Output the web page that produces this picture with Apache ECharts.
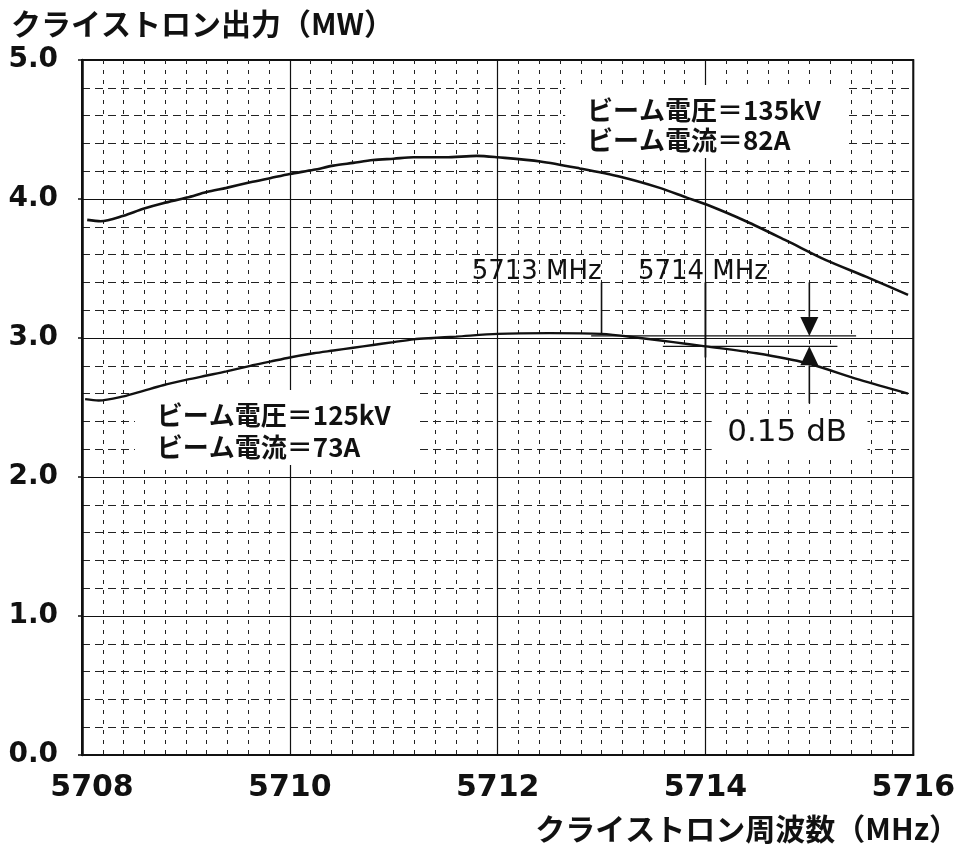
<!DOCTYPE html>
<html>
<head>
<meta charset="utf-8">
<script src="https://cdn.jsdelivr.net/npm/echarts@6/dist/echarts.min.js"></script>
<style>
  html, body { margin: 0; padding: 0; background: #fff; }
  #chart { width: 958px; height: 852px; }
</style>
</head>
<body>
<div id="chart"></div>
<script>
// Klystron output power (MW) versus drive frequency (MHz) at two beam settings.
const freq135 = [5708.05, 5708.18, 5708.4, 5708.59, 5708.78, 5709.01, 5709.2, 5709.39, 5709.62, 5709.81,
                 5710.0, 5710.23, 5710.42, 5710.61, 5710.8, 5711.0, 5711.19, 5711.5, 5711.8, 5712.0,
                 5712.41, 5712.79, 5713.18, 5713.56, 5713.82, 5714.01, 5714.39, 5714.78, 5715.16, 5715.55, 5715.95];
const power135 = [3.85, 3.84, 3.88, 3.93, 3.97, 4.01, 4.05, 4.08, 4.12, 4.15,
                  4.18, 4.21, 4.24, 4.26, 4.28, 4.29, 4.30, 4.30, 4.31, 4.30,
                  4.27, 4.22, 4.16, 4.08, 4.01, 3.96, 3.84, 3.70, 3.56, 3.44, 3.31];

const freq125 = [5708.03, 5708.16, 5708.4, 5708.59, 5708.78, 5709.01, 5709.2, 5709.39, 5709.62, 5709.81,
                 5710.0, 5710.23, 5710.42, 5710.61, 5710.8, 5711.0, 5711.19, 5711.38, 5711.6, 5712.0,
                 5712.5, 5713.0, 5713.37, 5713.69, 5714.0, 5714.49, 5714.97, 5715.48, 5715.95];
const power125 = [2.56, 2.55, 2.58, 2.62, 2.66, 2.70, 2.73, 2.76, 2.80, 2.83,
                  2.86, 2.89, 2.91, 2.93, 2.95, 2.97, 2.99, 3.00, 3.01, 3.03,
                  3.035, 3.03, 3.00, 2.97, 2.94, 2.89, 2.82, 2.70, 2.60];

// Axis ranges and tick steps
const xRange = [5708, 5716];
const xStep = 2;
const yRange = [0, 5];
const yStep = 1;

// Texts
const yTitle = 'クライストロン出力（MW）';
const xTitle = 'クライストロン周波数（MHz）';
const beam135 = ['ビーム電圧＝135kV', 'ビーム電流＝82A'];
const beam125 = ['ビーム電圧＝125kV', 'ビーム電流＝73A'];
const marker5713Text = '5713 MHz';
const marker5714Text = '5714 MHz';
const dropText = '0.15 dB';

// Annotation geometry, in data units (MHz, MW)
const marker5713 = [[5713, 3.40], [5713, 3.03]];
const marker5714 = [[5714, 3.40], [5714, 2.86]];
const levelTop = [[5712.9, 3.015], [5715.45, 3.015]];
const levelBottom = [[5713.59, 2.94], [5715.27, 2.94]];
const arrowDown = [[5715, 3.40], [5715, 3.015]];
const arrowUp = [[5715, 2.53], [5715, 2.94]];

const CJK = '"Noto Sans CJK JP", "Noto Sans CJK SC", sans-serif';
const NUM = '"DejaVu Sans", sans-serif';
const INK = '#111';

const chart = echarts.init(document.getElementById('chart'), null, { renderer: 'canvas' });

const zip = (xs, ys) => xs.map((x, i) => [x, ys[i]]);

const option = {
  animation: false,
  backgroundColor: '#fff',
  title: [
    {
      text: yTitle, left: 6, top: 4,
      textStyle: { fontFamily: CJK, fontSize: 30, fontWeight: 'bold', color: INK }
    },
    {
      text: xTitle, right: -6, top: 809,
      textStyle: { fontFamily: CJK, fontSize: 30, fontWeight: 'bold', color: INK }
    }
  ],
  grid: {
    left: 82, top: 60, right: 44, bottom: 97,
    show: true, borderColor: INK, borderWidth: 2, backgroundColor: 'transparent'
  },
  xAxis: {
    type: 'value', min: xRange[0], max: xRange[1], interval: xStep,
    axisLine: { show: true, onZero: false, lineStyle: { color: INK, width: 2 } },
    axisTick: { show: false },
    axisLabel: {
      margin: 18,
      fontFamily: NUM, fontSize: 30, fontWeight: 'bold', color: INK,
      formatter: v => (v === xRange[0] ? '{first|' + v + '}' : String(v)),
      rich: {
        first: { fontFamily: NUM, fontSize: 30, fontWeight: 'bold', color: INK, padding: [0, 0, 0, 20] }
      }
    },
    splitLine: { show: true, lineStyle: { color: INK, width: 1.2 } },
    minorTick: { show: false, splitNumber: 10 },
    minorSplitLine: { show: true, lineStyle: { color: '#222', width: 1, type: [4, 6] } }
  },
  yAxis: {
    type: 'value', min: yRange[0], max: yRange[1], interval: yStep,
    axisLine: { show: true, onZero: false, lineStyle: { color: INK, width: 2.5 } },
    axisTick: { show: true, length: 4, lineStyle: { color: INK, width: 1.5 } },
    axisLabel: {
      margin: 24,
      fontFamily: NUM, fontSize: 28, fontWeight: 'bold', color: INK,
      formatter: v => v.toFixed(1)
    },
    splitLine: { show: true, lineStyle: { color: INK, width: 1.2 } },
    minorTick: { show: false, splitNumber: 5 },
    minorSplitLine: { show: true, lineStyle: { color: '#222', width: 1, type: [8, 5] } }
  },
  series: [
    {
      name: '135kV', type: 'line', data: zip(freq135, power135),
      showSymbol: false, smooth: 0.3, z: 4,
      lineStyle: { color: INK, width: 2.6 }
    },
    {
      name: '125kV', type: 'line', data: zip(freq125, power125),
      showSymbol: false, smooth: 0.3, z: 4,
      lineStyle: { color: INK, width: 2.4 }
    }
  ]
};

chart.setOption(option);

// Annotation overlay: white label boxes, marker lines, arrows and texts
const px = p => chart.convertToPixel({ gridIndex: 0 }, p);

function box(x0, x1, y0, y1) {
  const a = px([x0, y0]), b = px([x1, y1]);
  return {
    type: 'rect', z: 1, silent: true,
    shape: { x: Math.min(a[0], b[0]), y: Math.min(a[1], b[1]), width: Math.abs(b[0] - a[0]), height: Math.abs(b[1] - a[1]) },
    style: { fill: '#fff' }
  };
}

function segment(pts, width) {
  const a = px(pts[0]), b = px(pts[1]);
  return {
    type: 'line', z: 5, silent: true,
    shape: { x1: a[0], y1: a[1], x2: b[0], y2: b[1] },
    style: { stroke: INK, lineWidth: width }
  };
}

function arrow(pts) {
  const a = px(pts[0]), tip = px(pts[1]);
  const dir = Math.sign(tip[1] - a[1]);
  const headLen = 19, headHalf = 9;
  const baseY = tip[1] - dir * headLen;
  return [
    {
      type: 'line', z: 5, silent: true,
      shape: { x1: a[0], y1: a[1], x2: tip[0], y2: baseY },
      style: { stroke: INK, lineWidth: 1.6 }
    },
    {
      type: 'polygon', z: 5, silent: true,
      shape: { points: [[tip[0], tip[1]], [tip[0] - headHalf, baseY], [tip[0] + headHalf, baseY]] },
      style: { fill: INK }
    }
  ];
}

function label(text, at, font) {
  const p = px(at);
  return {
    type: 'text', z: 6, silent: true,
    style: { text: text, x: p[0], y: p[1], font: font, fill: INK, align: 'left', verticalAlign: 'middle' }
  };
}

const beamFont = 'bold 26px ' + CJK;
const markerFont = '26px ' + NUM;

const graphics = [
  box(5712.65, 5715.34, 4.82, 4.295),
  box(5708.51, 5711.22, 2.626, 2.086),
  box(5714.06, 5715.56, 2.446, 2.122),
  segment(marker5713, 1.6),
  segment(marker5714, 1.8),
  segment(levelTop, 1.4),
  segment(levelBottom, 1.4),
  ...arrow(arrowDown),
  ...arrow(arrowUp),
  label(beam135[0], [5712.86, 4.64], beamFont),
  label(beam135[1], [5712.86, 4.42], beamFont),
  label(beam125[0], [5708.72, 2.446], beamFont),
  label(beam125[1], [5708.72, 2.216], beamFont),
  label(marker5713Text, [5711.75, 3.475], markerFont),
  label(marker5714Text, [5713.35, 3.475], markerFont),
  label(dropText, [5714.21, 2.317], '31px ' + NUM)
];

chart.setOption({ graphic: graphics });
</script>
</body>
</html>
